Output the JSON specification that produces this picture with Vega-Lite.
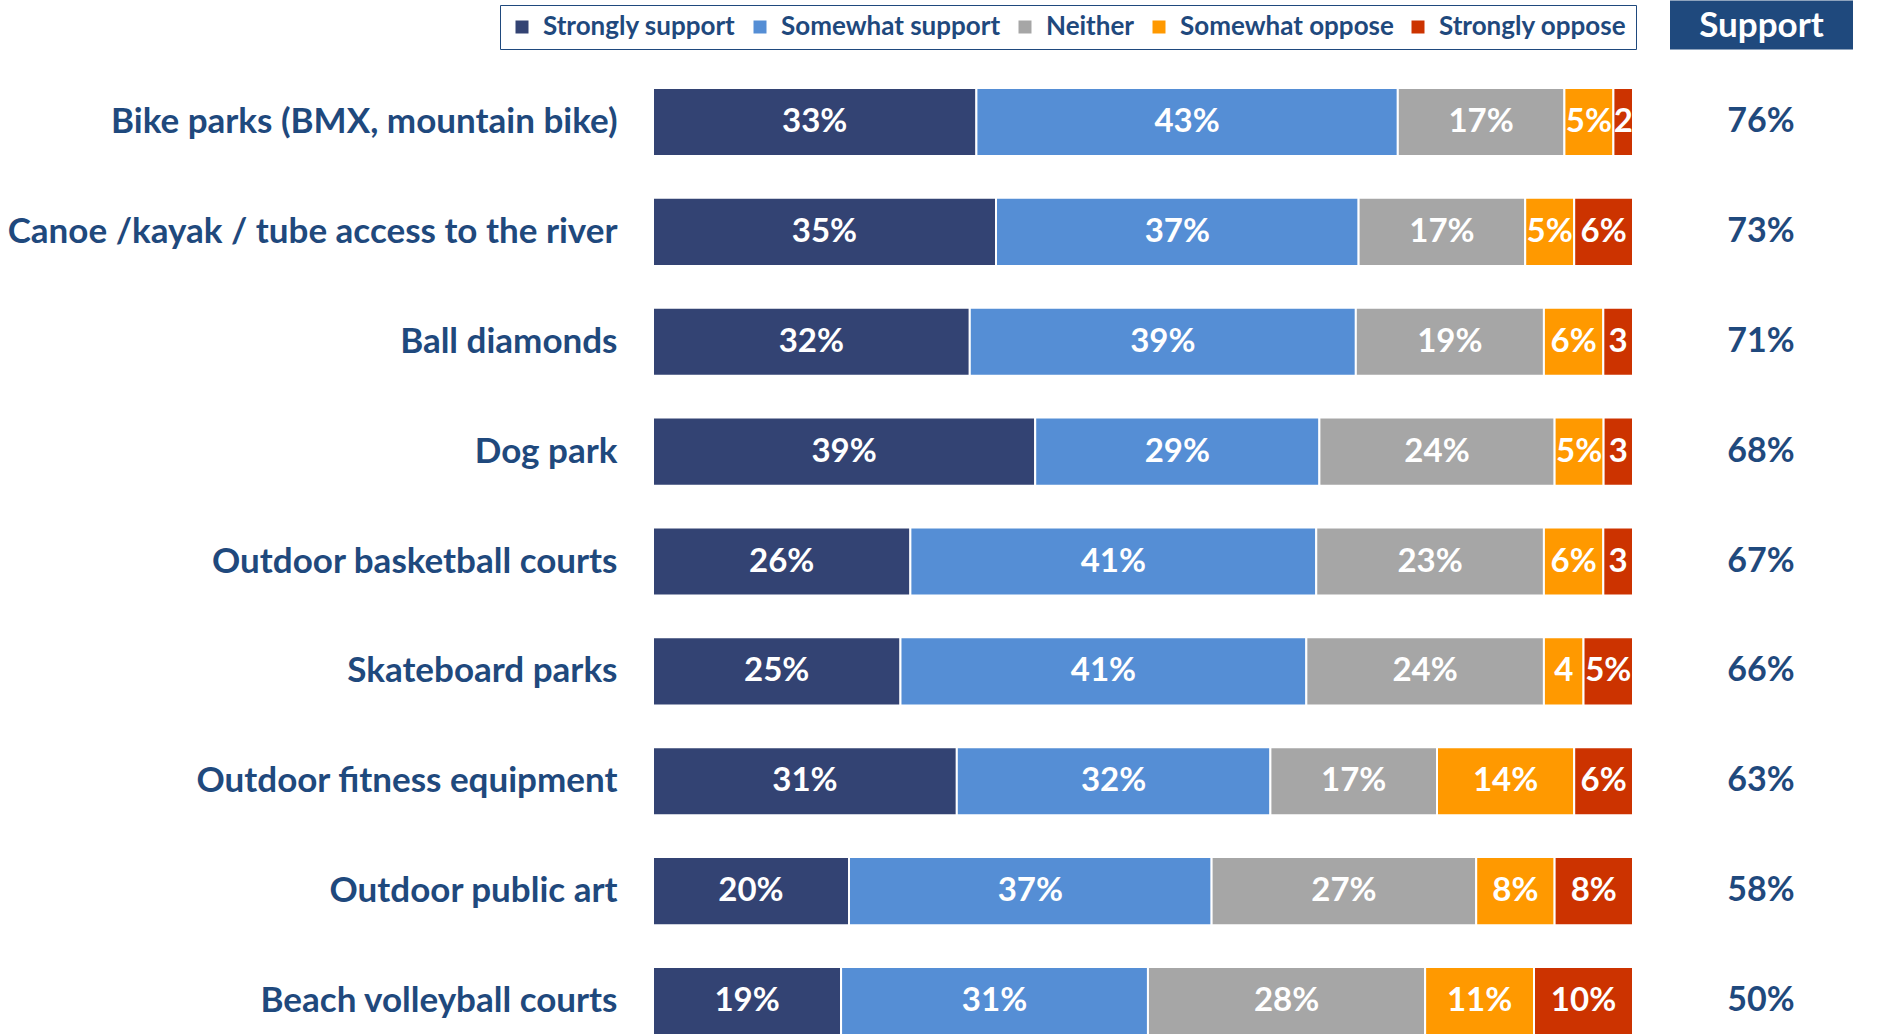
{
  "$schema": "https://vega.github.io/schema/vega-lite/v6.json",
  "autosize": {"type": "none"},
  "padding": {"left": 653, "top": 88, "right": 1, "bottom": 0},
  "width": 1235,
  "height": 947,
  "background": "white",
  "config": {
    "view": {"stroke": null},
    "font": "Lato"
  },
  "datasets": {
    "responses": [
      {"item": "Bike parks (BMX, mountain bike)", "response": "Strongly support", "k": 1, "value": 33, "label": "33%"},
      {"item": "Bike parks (BMX, mountain bike)", "response": "Somewhat support", "k": 2, "value": 43, "label": "43%"},
      {"item": "Bike parks (BMX, mountain bike)", "response": "Neither", "k": 3, "value": 17, "label": "17%"},
      {"item": "Bike parks (BMX, mountain bike)", "response": "Somewhat oppose", "k": 4, "value": 5, "label": "5%"},
      {"item": "Bike parks (BMX, mountain bike)", "response": "Strongly oppose", "k": 5, "value": 2, "label": "2"},
      {"item": "Canoe /kayak / tube access to the river", "response": "Strongly support", "k": 1, "value": 35, "label": "35%"},
      {"item": "Canoe /kayak / tube access to the river", "response": "Somewhat support", "k": 2, "value": 37, "label": "37%"},
      {"item": "Canoe /kayak / tube access to the river", "response": "Neither", "k": 3, "value": 17, "label": "17%"},
      {"item": "Canoe /kayak / tube access to the river", "response": "Somewhat oppose", "k": 4, "value": 5, "label": "5%"},
      {"item": "Canoe /kayak / tube access to the river", "response": "Strongly oppose", "k": 5, "value": 6, "label": "6%"},
      {"item": "Ball diamonds", "response": "Strongly support", "k": 1, "value": 32, "label": "32%"},
      {"item": "Ball diamonds", "response": "Somewhat support", "k": 2, "value": 39, "label": "39%"},
      {"item": "Ball diamonds", "response": "Neither", "k": 3, "value": 19, "label": "19%"},
      {"item": "Ball diamonds", "response": "Somewhat oppose", "k": 4, "value": 6, "label": "6%"},
      {"item": "Ball diamonds", "response": "Strongly oppose", "k": 5, "value": 3, "label": "3"},
      {"item": "Dog park", "response": "Strongly support", "k": 1, "value": 39, "label": "39%"},
      {"item": "Dog park", "response": "Somewhat support", "k": 2, "value": 29, "label": "29%"},
      {"item": "Dog park", "response": "Neither", "k": 3, "value": 24, "label": "24%"},
      {"item": "Dog park", "response": "Somewhat oppose", "k": 4, "value": 5, "label": "5%"},
      {"item": "Dog park", "response": "Strongly oppose", "k": 5, "value": 3, "label": "3"},
      {"item": "Outdoor basketball courts", "response": "Strongly support", "k": 1, "value": 26, "label": "26%"},
      {"item": "Outdoor basketball courts", "response": "Somewhat support", "k": 2, "value": 41, "label": "41%"},
      {"item": "Outdoor basketball courts", "response": "Neither", "k": 3, "value": 23, "label": "23%"},
      {"item": "Outdoor basketball courts", "response": "Somewhat oppose", "k": 4, "value": 6, "label": "6%"},
      {"item": "Outdoor basketball courts", "response": "Strongly oppose", "k": 5, "value": 3, "label": "3"},
      {"item": "Skateboard parks", "response": "Strongly support", "k": 1, "value": 25, "label": "25%"},
      {"item": "Skateboard parks", "response": "Somewhat support", "k": 2, "value": 41, "label": "41%"},
      {"item": "Skateboard parks", "response": "Neither", "k": 3, "value": 24, "label": "24%"},
      {"item": "Skateboard parks", "response": "Somewhat oppose", "k": 4, "value": 4, "label": "4"},
      {"item": "Skateboard parks", "response": "Strongly oppose", "k": 5, "value": 5, "label": "5%"},
      {"item": "Outdoor fitness equipment", "response": "Strongly support", "k": 1, "value": 31, "label": "31%"},
      {"item": "Outdoor fitness equipment", "response": "Somewhat support", "k": 2, "value": 32, "label": "32%"},
      {"item": "Outdoor fitness equipment", "response": "Neither", "k": 3, "value": 17, "label": "17%"},
      {"item": "Outdoor fitness equipment", "response": "Somewhat oppose", "k": 4, "value": 14, "label": "14%"},
      {"item": "Outdoor fitness equipment", "response": "Strongly oppose", "k": 5, "value": 6, "label": "6%"},
      {"item": "Outdoor public art", "response": "Strongly support", "k": 1, "value": 20, "label": "20%"},
      {"item": "Outdoor public art", "response": "Somewhat support", "k": 2, "value": 37, "label": "37%"},
      {"item": "Outdoor public art", "response": "Neither", "k": 3, "value": 27, "label": "27%"},
      {"item": "Outdoor public art", "response": "Somewhat oppose", "k": 4, "value": 8, "label": "8%"},
      {"item": "Outdoor public art", "response": "Strongly oppose", "k": 5, "value": 8, "label": "8%"},
      {"item": "Beach volleyball courts", "response": "Strongly support", "k": 1, "value": 19, "label": "19%"},
      {"item": "Beach volleyball courts", "response": "Somewhat support", "k": 2, "value": 31, "label": "31%"},
      {"item": "Beach volleyball courts", "response": "Neither", "k": 3, "value": 28, "label": "28%"},
      {"item": "Beach volleyball courts", "response": "Somewhat oppose", "k": 4, "value": 11, "label": "11%"},
      {"item": "Beach volleyball courts", "response": "Strongly oppose", "k": 5, "value": 10, "label": "10%"}
    ],
    "support": [
      {"item": "Bike parks (BMX, mountain bike)", "support": "76%"},
      {"item": "Canoe /kayak / tube access to the river", "support": "73%"},
      {"item": "Ball diamonds", "support": "71%"},
      {"item": "Dog park", "support": "68%"},
      {"item": "Outdoor basketball courts", "support": "67%"},
      {"item": "Skateboard parks", "support": "66%"},
      {"item": "Outdoor fitness equipment", "support": "63%"},
      {"item": "Outdoor public art", "support": "58%"},
      {"item": "Beach volleyball courts", "support": "50%"}
    ]
  },
  "layer": [
    {
      "data": {"name": "responses"},
      "mark": {"type": "bar", "stroke": "white", "strokeWidth": 2},
      "encoding": {
        "y": {
          "field": "item", "type": "nominal", "title": null,
          "sort": ["Bike parks (BMX, mountain bike)", "Canoe /kayak / tube access to the river", "Ball diamonds", "Dog park", "Outdoor basketball courts", "Skateboard parks", "Outdoor fitness equipment", "Outdoor public art", "Beach volleyball courts"],
          "scale": {"paddingInner": 0.38, "paddingOuter": 0},
          "axis": {"domain": false, "ticks": false, "labelPadding": 36, "labelLimit": 800, "labelFontSize": 35, "labelFont": "Lato", "labelFontWeight": "bold", "labelColor": "#1F497D"}
        },
        "x": {
          "field": "value", "type": "quantitative", "stack": "normalize", "title": null,
          "scale": {"domain": [0, 1.2602], "nice": false},
          "axis": {"orient": "top", "values": [1.1306], "grid": false, "domain": false, "offset": 39, "tickSize": 49, "tickWidth": 183, "tickColor": "#1F497D", "labelExpr": "'Support'", "labelColor": "white", "labelFontSize": 35, "labelFont": "Lato", "labelFontWeight": "bold", "labelBaseline": "middle", "labelPadding": -25}
        },
        "color": {
          "field": "response", "type": "nominal",
          "scale": {"domain": ["Strongly support", "Somewhat support", "Neither", "Somewhat oppose", "Strongly oppose"], "range": ["#334373", "#558ED5", "#A6A6A6", "#FF9900", "#CC3300"]},
          "legend": {"title": null, "orient": "none", "legendX": -153, "legendY": -83, "direction": "horizontal", "columns": 5, "symbolType": "square", "symbolSize": 169, "symbolStrokeWidth": 0, "labelFontSize": 26, "labelFont": "Lato", "labelFontWeight": "bold", "labelColor": "#1F497D", "labelLimit": 500, "labelOffset": 8, "columnPadding": 11, "padding": 9, "strokeColor": "#1F497D", "fillColor": "white"}
        },
        "order": {"field": "k", "type": "quantitative"}
      }
    },
    {
      "data": {"name": "responses"},
      "mark": {"type": "text", "color": "white", "fontSize": 33, "font": "Lato", "fontWeight": "bold", "baseline": "middle", "align": "center"},
      "encoding": {
        "y": {"field": "item", "type": "nominal", "sort": ["Bike parks (BMX, mountain bike)", "Canoe /kayak / tube access to the river", "Ball diamonds", "Dog park", "Outdoor basketball courts", "Skateboard parks", "Outdoor fitness equipment", "Outdoor public art", "Beach volleyball courts"]},
        "x": {"field": "value", "type": "quantitative", "stack": "normalize", "bandPosition": 0.5},
        "detail": {"field": "response", "type": "nominal"},
        "order": {"field": "k", "type": "quantitative"},
        "text": {"field": "label", "type": "nominal"}
      }
    },
    {
      "data": {"name": "support"},
      "mark": {"type": "text", "color": "#1F497D", "fontSize": 34, "font": "Lato", "fontWeight": "bold", "baseline": "middle", "align": "center"},
      "encoding": {
        "y": {"field": "item", "type": "nominal", "sort": ["Bike parks (BMX, mountain bike)", "Canoe /kayak / tube access to the river", "Ball diamonds", "Dog park", "Outdoor basketball courts", "Skateboard parks", "Outdoor fitness equipment", "Outdoor public art", "Beach volleyball courts"]},
        "x": {"datum": 1.1306, "type": "quantitative"},
        "text": {"field": "support", "type": "nominal"}
      }
    }
  ]
}
